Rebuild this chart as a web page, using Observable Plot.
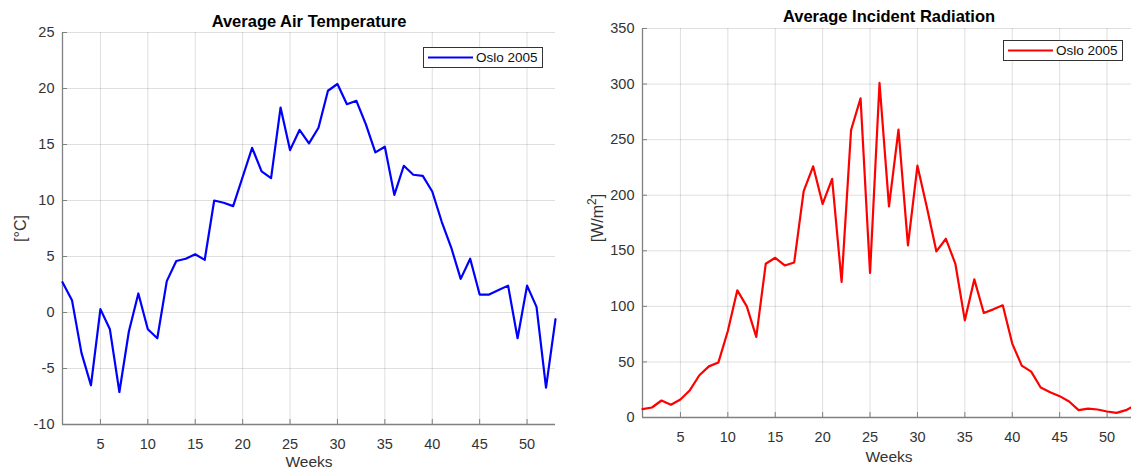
<!DOCTYPE html>
<html>
<head>
<meta charset="utf-8">
<script src="https://cdn.jsdelivr.net/npm/d3@7"></script>
<script src="https://cdn.jsdelivr.net/npm/@observablehq/plot@0.6"></script>
<style>
  html, body { margin: 0; padding: 0; background: #fff; overflow: hidden; }
  #wrap { position: relative; width: 1131px; height: 470px; overflow: hidden; background: #fff; }
  .panel { position: absolute; top: 0; width: 570px; height: 470px; }
  .panel svg { max-width: none !important; width: 570px; height: 470px; }
  .legend { position: absolute; box-sizing: border-box; background: #fff; border: 1px solid #333;
            font-family: "Liberation Sans", Arial, sans-serif; font-size: 13.5px; color: #111; }
  .legend svg { position: absolute; left: 3px; top: 0; }
  .legend span { position: absolute; top: 2px; white-space: nowrap; }
</style>
</head>
<body>
<div id="wrap">
  <div id="left" class="panel" style="left:0px"></div>
  <div id="right" class="panel" style="left:570px"></div>
</div>
<script>
const weeks = [1,2,3,4,5,6,7,8,9,10,11,12,13,14,15,16,17,18,19,20,21,22,23,24,25,26,27,28,29,30,31,32,33,34,35,36,37,38,39,40,41,42,43,44,45,46,47,48,49,50,51,52,53];
const airTemp = [2.7, 1.1, -3.6, -6.5, 0.3, -1.5, -7.1, -1.7, 1.7, -1.5,
                 -2.3, 2.8, 4.6, 4.8, 5.2, 4.7, 10.0, 9.8, 9.5, 12.1,
                 14.7, 12.6, 12.0, 18.3, 14.5, 16.3, 15.1, 16.5, 19.8, 20.4,
                 18.6, 18.9, 16.8, 14.3, 14.8, 10.5, 13.1, 12.3, 12.2, 10.8,
                 8.1, 5.8, 3.0, 4.8, 1.6, 1.6, 2.0, 2.4, -2.3, 2.4,
                 0.5, -6.7, -0.6];
const radiation = [7.5, 9, 15.3, 11.4, 16.2, 24.6, 38, 46, 49.4, 77.8,
                   114.4, 100, 72.5, 138.3, 143.7, 136.8, 139.5, 203.6, 226, 192.2,
                   214.7, 121.9, 258.7, 287.1, 130, 301, 190, 259, 154.8, 226.6,
                   189, 149.4, 160.8, 138.3, 87.4, 124.3, 94, 97.3, 100.9, 66.5,
                   46.7, 41.3, 27, 22.8, 19.2, 14.4, 6.6, 8, 7.2, 5.4,
                   4.2, 6.6, 11];
const weekTicks = [5,10,15,20,25,30,35,40,45,50];
const tempTicks = [-10,-5,0,5,10,15,20,25];
const radTicks = [0,50,100,150,200,250,300,350];
const seriesName = "Oslo 2005";

const tempData = weeks.map((w, i) => ({week: w, value: airTemp[i]}));
const radData = weeks.map((w, i) => ({week: w, value: radiation[i]}));

const FONT = '"Liberation Sans", Arial, sans-serif';
const GRID = "#262626";
const AXIS = "#808080";
const fmt = d => String(d);

function panel({data, yTicks, color, title, ylabel, margins, titleDy, xlabDy, ylabDx, ylabDy}) {
  const yDom = [yTicks[0], yTicks[yTicks.length - 1]];
  return Plot.plot({
    width: 570, height: 470,
    ...margins,
    style: {fontFamily: FONT, fontSize: "14.5px", color: "#262626", background: "transparent", overflow: "visible", maxWidth: "none"},
    x: {domain: [weeks[0], weeks[weeks.length - 1]]},
    y: {domain: yDom},
    marks: [
      Plot.gridX(weekTicks, {stroke: GRID, strokeOpacity: 0.15}),
      Plot.gridY(yTicks, {stroke: GRID, strokeOpacity: 0.15}),
      Plot.ruleX([weeks[0]], {stroke: AXIS, strokeWidth: 1.3}),
      Plot.ruleY([yDom[0]], {stroke: AXIS, strokeWidth: 1.3}),
      Plot.axisX(weekTicks, {tickSize: -5, tickPadding: 19, stroke: AXIS, label: null, fill: "#333", tickFormat: fmt}),
      Plot.axisY(yTicks, {tickSize: -5, tickPadding: 13, stroke: AXIS, label: null, fill: "#333", tickFormat: fmt}),
      Plot.line(data, {x: "week", y: "value", stroke: color, strokeWidth: 2.2}),
      Plot.text([title], {text: d => d, frameAnchor: "top", lineAnchor: "middle", dy: titleDy, fontSize: 16.5, fontWeight: "bold", fill: "#000"}),
      Plot.text(["Weeks"], {text: d => d, frameAnchor: "bottom", lineAnchor: "middle", dy: xlabDy, fontSize: 15.5, fill: "#333"}),
      Plot.text([ylabel], {text: d => d, frameAnchor: "left", textAnchor: "middle", lineAnchor: "middle", dx: ylabDx, dy: ylabDy, rotate: -90, fontSize: 16, fill: "#333"})
    ]
  });
}

document.getElementById("left").appendChild(panel({
  data: tempData, yTicks: tempTicks, color: "#0000ff",
  title: "Average Air Temperature", ylabel: "[°C]",
  margins: {marginLeft: 62, marginRight: 15, marginTop: 32, marginBottom: 46},
  titleDy: -10.5, xlabDy: 38, ylabDx: -42, ylabDy: 0
}));
const rightSvg = panel({
  data: radData, yTicks: radTicks, color: "#ff0000",
  title: "Average Incident Radiation", ylabel: "[W/m²]",
  margins: {marginLeft: 72, marginRight: 5, marginTop: 28, marginBottom: 53},
  titleDy: -12, xlabDy: 40, ylabDx: -45, ylabDy: -5
});
document.getElementById("right").appendChild(rightSvg);
// render the superscript 2 as a raised tspan, like the reference
rightSvg.querySelectorAll("text").forEach(t => {
  if (t.textContent === "[W/m²]") {
    t.innerHTML = '[W/m<tspan dy="-7" font-size="12">2</tspan><tspan dy="7">]</tspan>';
  }
});

function legend(left, top, color) {
  const d = document.createElement("div");
  d.className = "legend";
  d.style.left = left + "px"; d.style.top = top + "px";
  d.style.width = "120px"; d.style.height = "21px";
  d.innerHTML = `<svg width="48" height="19"><line x1="1" x2="46" y1="9.5" y2="9.5" stroke="${color}" stroke-width="2.2"/></svg><span style="left:52px">${seriesName}</span>`;
  document.getElementById("wrap").appendChild(d);
}
legend(423, 47, "#0000ff");
legend(1003, 40, "#ff0000");
</script>
</body>
</html>
